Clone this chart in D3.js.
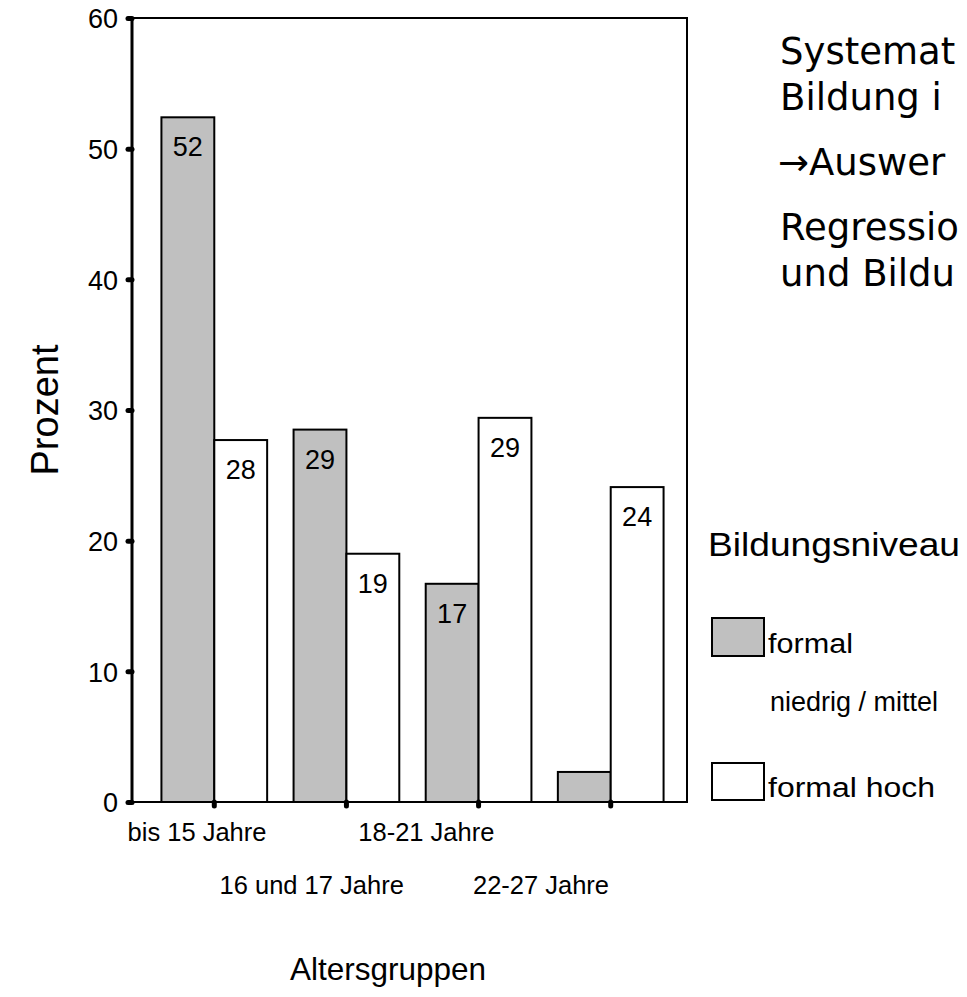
<!DOCTYPE html>
<html><head><meta charset="utf-8">
<script src="https://cdn.jsdelivr.net/npm/d3@7"></script>
<style>body{margin:0;background:#fff;overflow:hidden}svg{display:block}</style>
</head><body>
<svg id="c" width="967" height="997"></svg>
<script>
const categories = ["bis 15 Jahre", "16 und 17 Jahre", "18-21 Jahre", "22-27 Jahre"];
const seriesNames = ["formal niedrig / mittel", "formal hoch"];
const lowMid = [52.4, 28.5, 16.7, 2.3];
const high = [27.7, 19.0, 29.4, 24.1];
const lowMidLabels = ["52", "29", "17", ""];
const highLabels = ["28", "19", "29", "24"];
const yTicks = [0, 10, 20, 30, 40, 50, 60];
const sideText = ["Systemat", "Bildung i", "\u2192Auswer", "Regressio", "und Bildu"];

const svg = d3.select("#c");
const F = "'Liberation Sans', Arial, sans-serif";
const L = 132, R = 687, T = 18, B = 802;

const y = d3.scaleLinear().domain([0, 60]).range([B, T]);
const x = d3.scaleBand().domain(categories).range([L + 3, R + 3]).paddingInner(0.2).paddingOuter(0.2);
const xs = d3.scaleBand().domain(seriesNames).range([0, x.bandwidth()]);
const colors = ["#c0c0c0", "#ffffff"];

// bars
const rows = categories.map((c, i) => ({c, vals: [lowMid[i], high[i]], labs: [lowMidLabels[i], highLabels[i]]}));
const g = svg.append("g");
rows.forEach(r => {
  r.vals.forEach((v, j) => {
    const bx = x(r.c) + xs(seriesNames[j]);
    g.append("rect").attr("x", bx).attr("y", y(v)).attr("width", xs.bandwidth()).attr("height", y(0) - y(v))
      .attr("fill", colors[j]).attr("stroke", "#000").attr("stroke-width", 2);
    if (r.labs[j]) {
      g.append("text").attr("x", bx + xs.bandwidth() / 2).attr("y", y(v) + 39)
        .attr("text-anchor", "middle").attr("font-family", F).attr("font-size", 27).text(r.labs[j]);
    }
  });
});

// frame
svg.append("path").attr("d", `M${L},${B}V${T}H${R}V${B}H${L}`).attr("fill", "none").attr("stroke", "#000").attr("stroke-width", 2);
svg.append("line").attr("x1", L).attr("x2", L).attr("y1", T).attr("y2", B).attr("stroke", "#000").attr("stroke-width", 3);

// y axis ticks
const yAxis = d3.axisLeft(y).tickValues(yTicks).tickSize(4).tickPadding(10);
const ya = svg.append("g").attr("transform", `translate(${L},0)`).call(yAxis);
ya.select(".domain").remove();
ya.selectAll(".tick line").attr("stroke", "#000").attr("stroke-width", 5).attr("stroke-linecap", "round");
ya.selectAll(".tick text").attr("font-family", F).attr("font-size", 27).attr("fill", "#000").attr("dy", "0.36em");

// x axis ticks at category centers
const xAxis = d3.axisBottom(x).tickSize(4).tickFormat("");
const xa = svg.append("g").attr("transform", `translate(0,${B})`).call(xAxis);
xa.select(".domain").remove();
xa.selectAll(".tick line").attr("stroke", "#000").attr("stroke-width", 5).attr("stroke-linecap", "round");

// staggered x labels
const lx = d3.scalePoint().domain(categories).range([197, 541]);
svg.append("g").selectAll("text").data(categories).join("text")
  .attr("x", d => lx(d)).attr("y", (d, i) => i % 2 === 0 ? 841 : 894)
  .attr("text-anchor", "middle").attr("font-family", F).attr("font-size", 25.5).text(d => d);

// axis titles
svg.append("text").attr("x", 388).attr("y", 980).attr("text-anchor", "middle")
  .attr("font-family", F).attr("font-size", 31.5).text("Altersgruppen");
svg.append("text").attr("transform", "translate(58,410) rotate(-90)").attr("text-anchor", "middle")
  .attr("font-family", F).attr("font-size", 38).text("Prozent");

// legend
const lg = svg.append("g");
const legendText = (tx, ty, size, len, s) => lg.append("text").attr("x", tx).attr("y", ty)
  .attr("font-family", F).attr("font-size", size).attr("textLength", len).attr("lengthAdjust", "spacingAndGlyphs").text(s);
legendText(708, 556, 33, 252, "Bildungsniveau");
lg.append("rect").attr("x", 712).attr("y", 618).attr("width", 52).attr("height", 38).attr("fill", colors[0]).attr("stroke", "#000").attr("stroke-width", 2);
legendText(768, 653, 27, 85, "formal");
legendText(770, 711, 27, 168, "niedrig / mittel");
lg.append("rect").attr("x", 712).attr("y", 763).attr("width", 52).attr("height", 37).attr("fill", colors[1]).attr("stroke", "#000").attr("stroke-width", 2);
legendText(768, 797, 27, 167, "formal hoch");

// side text
const sy = [64, 110, 175, 240, 286];
svg.append("g").selectAll("text").data(sideText).join("text")
  .attr("x", (d, i) => i === 2 ? 778 : 780).attr("y", (d, i) => sy[i])
  .attr("font-family", "'DejaVu Sans', sans-serif").attr("font-size", 37).text(d => d);
</script>
</body></html>
